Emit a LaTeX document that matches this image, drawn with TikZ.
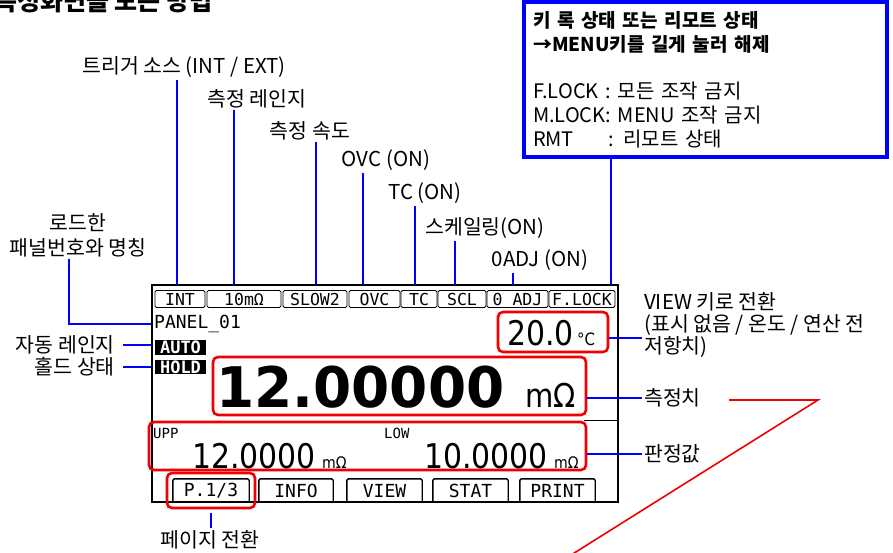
\documentclass[tikz,border=0pt]{standalone}
\usepackage{fontspec}
\setmainfont{Noto Sans CJK KR}
\newfontfamily\lcdmono{DejaVu Sans Mono}
\newfontfamily\lcdnum{DejaVu Sans}[FakeStretch=0.88]
\newfontfamily\lcdbig{DejaVu Sans}[FakeStretch=0.98]
\definecolor{ptrblue}{RGB}{0,0,255}
\definecolor{markred}{RGB}{240,0,0}
\tikzset{
  pointer/.style={draw=ptrblue, line width=1.8pt},
  lbl/.style={inner sep=2pt, font=\fontsize{20.5}{22}\selectfont},
  redframe/.style={draw=markred, line width=2.6pt, rounded corners=5pt, inner sep=0pt},
  stbox/.style={draw, line width=0.9pt, rounded corners=1.5pt, minimum height=17,
    inner sep=0pt, font=\lcdmono\fontsize{16.5}{16.5}\selectfont},
  softkey/.style={minimum height=23, inner sep=0pt, font=\lcdmono\fontsize{18}{18}\selectfont},
  lcdtxt/.style={inner sep=0pt, anchor=base west}
}
\begin{document}
\begin{tikzpicture}[x=1pt,y=-1pt]
  \useasboundingbox (0,0) rectangle (893,552);
  % title, cut at the top edge
  \node[anchor=base west, inner sep=0pt, font=\fontsize{25}{25}\bfseries\selectfont] (title) at (-6,10) {측정화면을 보는 방법};

  % lock note
  \node[draw=ptrblue, line width=3.5pt, minimum width=363, minimum height=155,
    text width=345, inner xsep=9pt, align=left, font=\fontsize{20}{23.8}\selectfont]
    (lockbox) at (705.5,79.5)
    {{\fontsize{19}{23.8}\selectfont\bfseries 키 록 상태 또는 리모트 상태}\\
     {\fontsize{19}{23.8}\selectfont\bfseries →MENU키를 길게 눌러 해제}\\[23.8pt]
     F.LOCK : 모든 조작 금지\\
     M.LOCK: MENU 조작 금지\\
     \makebox[3.75em][l]{RMT}: 리모트 상태};

  % LCD frame
  \node[draw, line width=1.1pt, minimum width=466, minimum height=217, inner sep=0pt] (lcd) at (385,393.5) {};

  % status bar
  \foreach \nm/\txt/\xl/\xr in {INT/INT/155/205, Rng/10mΩ/207/281, Spd/SLOW2/283/347,
      Ovc/OVC/349/400, Tc/TC/401/437, Scl/SCL/438/486, Adj/0 ADJ/487/548, Lck/F.LOCK/549/615}
    \node[stbox, minimum width={\xr-\xl}] (st\nm) at ({(\xl+\xr)/2},299) {\txt};

  % screen contents
  \node[anchor=west, inner sep=1pt, font=\lcdmono\fontsize{18}{18}\selectfont] (panelTxt) at (153,324) {PANEL\_01};
  \node[fill=black, text=white, minimum width=51, minimum height=15, inner sep=0pt,
    font=\lcdmono\bfseries\fontsize{17}{17}\selectfont] (autoTag) at (180.5,347.5) {AUTO};
  \node[fill=black, text=white, minimum width=51, minimum height=14, inner sep=0pt,
    font=\lcdmono\bfseries\fontsize{17}{17}\selectfont] (holdTag) at (180.5,367) {HOLD};
  \node[lcdtxt, font=\lcdnum\fontsize{34}{34}\selectfont] (tempVal) at (507,345) {20.0};
  \node[lcdtxt, font=\lcdnum\fontsize{17}{17}\selectfont] (tempUnit) at (577,345) {°C};
  \node[lcdtxt, font=\lcdbig\bfseries\fontsize{56}{56}\selectfont] (measVal) at (216,407) {12.00000};
  \node[lcdtxt, font=\lcdnum\fontsize{33}{33}\selectfont] (measUnit) at (525,407) {mΩ};
  \node[anchor=west, inner sep=0pt, font=\lcdmono\fontsize{14}{14}\selectfont] (uppTag) at (153,433) {UPP};
  \node[anchor=west, inner sep=0pt, font=\lcdmono\fontsize{14}{14}\selectfont] (lowTag) at (384,433) {LOW};
  \node[lcdtxt, font=\lcdnum\fontsize{34}{34}\selectfont] (uppVal) at (192,468) {12.0000};
  \node[lcdtxt, font=\lcdnum\fontsize{16}{16}\selectfont] (uppUnit) at (322,468) {mΩ};
  \node[lcdtxt, font=\lcdnum\fontsize{34}{34}\selectfont] (lowVal) at (424,468) {10.0000};
  \node[lcdtxt, font=\lcdnum\fontsize{16}{16}\selectfont] (lowUnit) at (554,468) {mΩ};

  % soft keys
  \foreach \nm/\txt/\xl/\xr in {Page/P.1{/}3/173/249, Info/INFO/259/333, View/VIEW/347/422,
      Stat/STAT/433/508, Prn/PRINT/520/595}{
    \node[softkey, minimum width={\xr-\xl}] (k\nm) at ({(\xl+\xr)/2},490.5) {\txt};
    \draw[line width=1.4pt, rounded corners=1.5pt] (k\nm.south west) |- (k\nm.north east) -- (k\nm.south east);
  }

  % highlighted areas
  \node[redframe, minimum width=110, minimum height=40] (tempbox) at (553,332) {};
  \node[redframe, minimum width=373, minimum height=58] (mainbox) at (399.5,386) {};
  \node[redframe, minimum width=437, minimum height=48] (judgebox) at (367.5,446) {};
  \node[redframe, minimum width=88, minimum height=35] (keybox) at (211,490.5) {};
  \draw[line width=1.1pt] (lcd.east |- judgebox.north) -- ++(-35,0);

  % labels above the status bar
  \foreach \nm/\x in {Trig/177, Rng/234, Spd/316, Ovc/363, Tc/415, Scl/455, Adj/513, Lck/611}
    \coordinate (t\nm) at (\x,285);
  \node[lbl, anchor=south] (lTrig) at (184,80) {트리거 소스 (INT / EXT)};
  \node[lbl, anchor=south] (lRng) at (257,110) {측정 레인지};
  \node[lbl, anchor=south] (lSpd) at (310,142) {측정 속도};
  \node[lbl, anchor=south] (lOvc) at (386,173) {OVC (ON)};
  \node[lbl, anchor=south] (lTc) at (425,206) {TC (ON)};
  \node[lbl, anchor=south] (lScl) at (485,241) {스케일링(ON)};
  \node[lbl, anchor=south] (lAdj) at (540,273) {0ADJ (ON)};
  \foreach \nm in {Trig,Rng,Spd,Ovc,Tc,Scl,Adj}
    \draw[pointer] (l\nm.south -| t\nm) -- (t\nm);
  \draw[pointer] (lockbox.south -| tLck) -- (tLck);

  % labels on the left
  \node[lbl, align=center, font=\fontsize{20.5}{25}\selectfont] (lPanel) at (78,235) {로드한\\패널번호와 명칭};
  \draw[pointer] ([xshift=-9pt]lPanel.south) |- (lcd.west |- panelTxt);
  \node[lbl, anchor=east, inner xsep=8pt] (lAuto) at (123,345) {자동 레인지};
  \node[lbl, anchor=east, inner xsep=8pt] (lHold) at (123,367) {홀드 상태};
  \draw[pointer] (lAuto.east) -- (lAuto.east -| lcd.west);
  \draw[pointer] (lHold.east) -- (lHold.east -| lcd.west);

  % labels on the right
  \node[lbl, anchor=west, align=left] (lView) at (642,325)
    {VIEW 키로 전환\\(표시 없음 / 온도 / 연산 전\\저항치)};
  \draw[pointer] ([yshift=-6pt]tempbox.east) -- ([yshift=-6pt]tempbox.east -| lView.west);
  \node[lbl, anchor=west] (lMeas) at (642,398) {측정치};
  \draw[pointer] (lMeas.west -| mainbox.east) -- (lMeas.west);
  \node[lbl, anchor=west] (lJudge) at (642,454) {판정값};
  \draw[pointer] (lJudge.west -| judgebox.east) -- (lJudge.west);

  % label below
  \node[lbl] (lPage) at (210,540) {페이지 전환};
  \draw[pointer] ([yshift=-4pt]keybox.south) -- (keybox.south |- lPage.north);

  % red guide stroke
  \draw[markred, line width=1.6pt] (729,400) -- (818,400) -- (571,555);
\end{tikzpicture}
\end{document}
